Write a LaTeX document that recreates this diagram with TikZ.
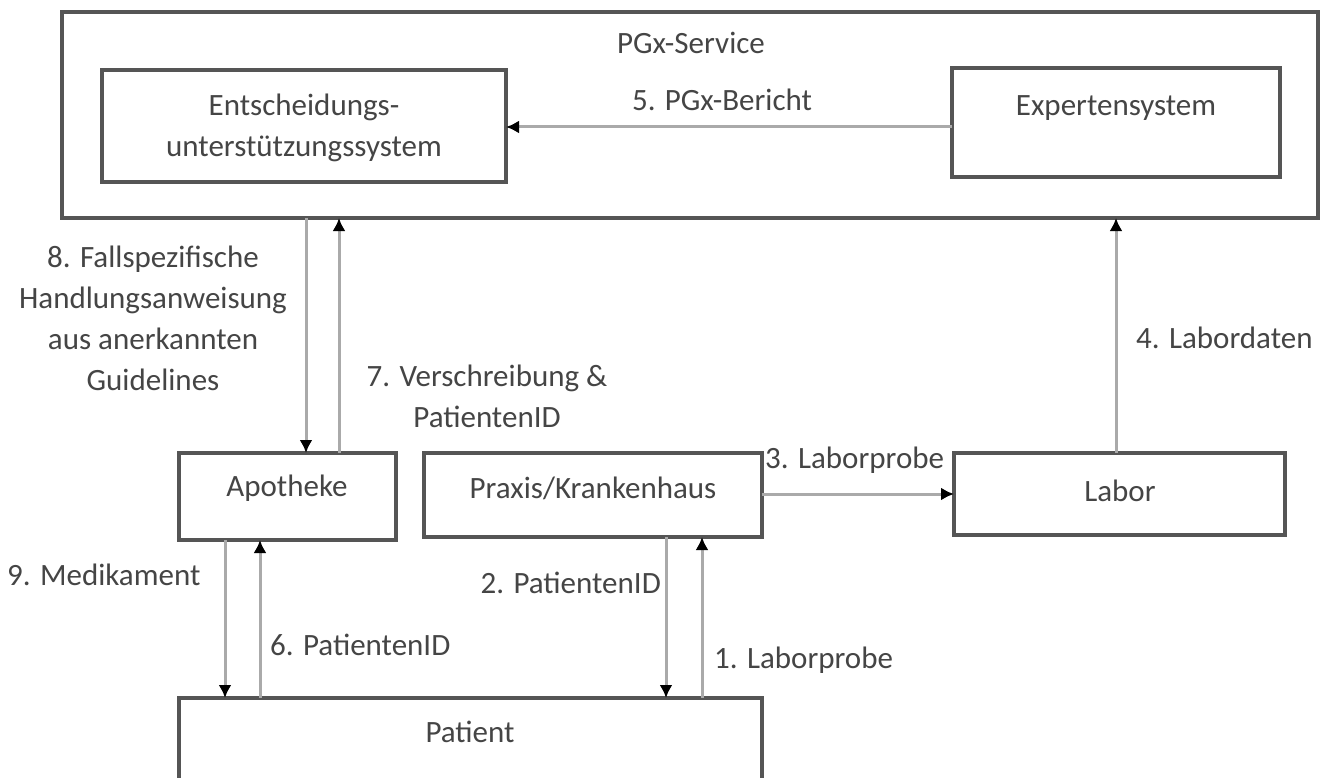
\documentclass[tikz,border=0pt]{standalone}
\usepackage{fontspec}
\setmainfont{Carlito}
\usetikzlibrary{arrows.meta}
\definecolor{boxgray}{HTML}{555555}
\definecolor{linegray}{HTML}{AAAAAA}
\definecolor{txtgray}{HTML}{454545}
\begin{document}
\begin{tikzpicture}[x=1pt,y=-1pt,
  box/.style={draw=boxgray, line width=4pt, fill=white, inner sep=0pt, outer sep=0pt},
  txt/.style={text=txtgray, font=\fontsize{31}{41}\selectfont, align=center, inner sep=0pt},
  conn/.style={draw=linegray, line width=3pt, -{Latex[length=13pt,width=13pt,color=black]}}]
\useasboundingbox (0,0) rectangle (1327,778);
\clip (0,0) rectangle (1327,778);
\fill[white] (0,0) rectangle (1327,778);
% boxes
\node[box, minimum width=1256pt, minimum height=206pt] (outer) at (690,115) {};
\node[box, minimum width=404pt, minimum height=112pt] (ent) at (304,126) {};
\node[box, minimum width=328pt, minimum height=109pt] (exp) at (1116,122.5) {};
\node[box, minimum width=217pt, minimum height=87pt] (apo) at (287.5,496.5) {};
\node[box, minimum width=338pt, minimum height=84pt] (pra) at (593,495) {};
\node[box, minimum width=331pt, minimum height=82pt] (lab) at (1119.5,494) {};
\node[box, minimum width=583pt, minimum height=110pt] (pat) at (470.5,753) {};
% box texts
\node[txt] (tOuter) at (691,43) {PGx-Service};
\node[txt] (tEnt) at (304,128) {Entscheidungs-\\unterstützungssystem};
\node[txt] (tExp) at (1116,108) {Expertensystem};
\node[txt] (tApo) at (287,488) {Apotheke};
\node[txt] (tPra) at (593,488) {Praxis/Krankenhaus};
\node[txt] (tLab) at (1120,491) {Labor};
\node[txt] (tPat) at (470,732) {Patient};
% helper x positions
\coordinate (x8) at (306,0);
\coordinate (x7) at (339,0);
\coordinate (x9) at (225,0);
\coordinate (x6) at (260,0);
\coordinate (x2) at (666,0);
\coordinate (x1) at (702,0);
\coordinate (x4) at (1116,0);
\coordinate (y5) at (0,127);
\coordinate (y3) at (0,494);
% connectors
\draw[conn] (exp.west |- y5) -- (ent.east |- y5);
\draw[conn] (outer.south -| x8) -- (apo.north -| x8);
\draw[conn] (apo.north -| x7) -- (outer.south -| x7);
\draw[conn] (lab.north -| x4) -- (outer.south -| x4);
\draw[conn] (pra.east |- y3) -- (lab.west |- y3);
\draw[conn] (apo.south -| x9) -- (pat.north -| x9);
\draw[conn] (pat.north -| x6) -- (apo.south -| x6);
\draw[conn] (pra.south -| x2) -- (pat.north -| x2);
\draw[conn] (pat.north -| x1) -- (pra.south -| x1);
% connector labels
\node[txt] (l5) at (722,100) {5. PGx-Bericht};
\node[txt, anchor=north] (l8) at (153,246) {8. Fallspezifische\\Handlungsanweisung\\aus anerkannten\\Guidelines};
\node[txt, anchor=north] (l7) at (487,365) {7. Verschreibung \&\\PatientenID};
\node[txt, anchor=west] (l4) at (1136,338) {4. Labordaten};
\node[txt, anchor=west] (l3) at (765,460) {3. Laborprobe};
\node[txt, anchor=west] (l9) at (7,575) {9. Medikament};
\node[txt, anchor=west] (l6) at (270,645) {6. PatientenID};
\node[txt, anchor=east] (l2) at (661,583) {2. PatientenID};
\node[txt, anchor=west] (l1) at (714,660) {1. Laborprobe};
\end{tikzpicture}
\end{document}
